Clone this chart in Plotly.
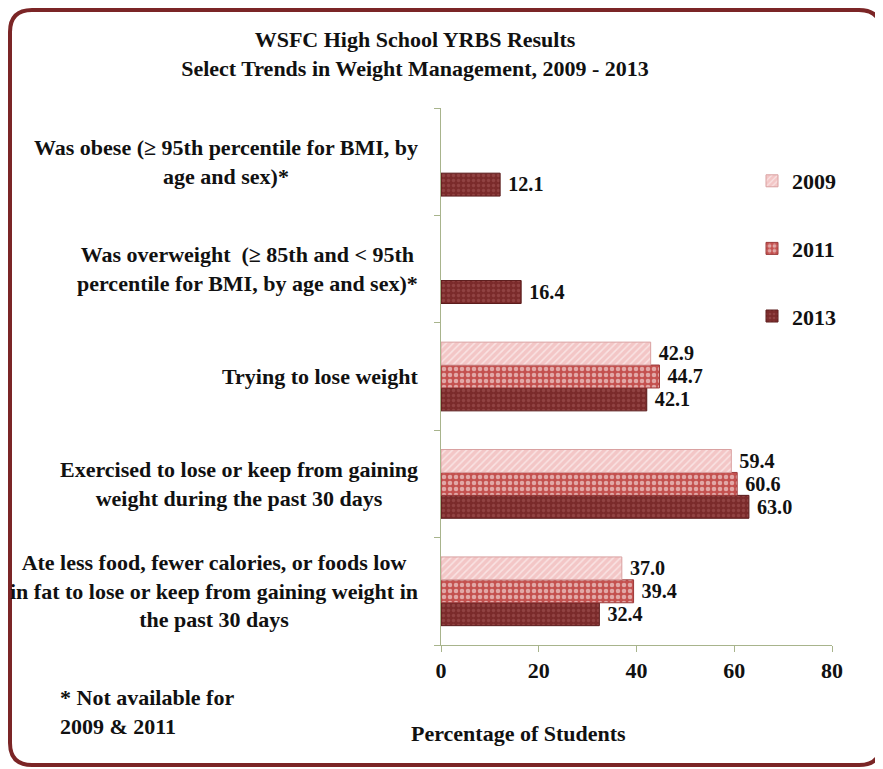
import plotly.graph_objects as go

categories = [
    "Ate less food, fewer calories, or foods low<br>in fat to lose or keep from gaining weight in<br>the past 30 days",
    "Exercised to lose or keep from gaining<br>weight during the past 30 days",
    "Trying to lose weight",
    "Was overweight  (≥ 85th and < 95th<br>percentile for BMI, by age and sex)*",
    "Was obese (≥ 95th percentile for BMI, by<br>age and sex)*",
]
years = ["2009", "2011", "2013"]
v2009 = [37.0, 59.4, 42.9, None, None]
v2011 = [39.4, 60.6, 44.7, None, None]
v2013 = [32.4, 63.0, 42.1, 16.4, 12.1]
x_ticks = [0, 20, 40, 60, 80]

FONT = "Liberation Serif"
FS = 22
OFF = 8  # page offset of the figure inside the browser window

# target pixel positions (screen) of the plot area
PL, PR, PT, PB = 441, 832, 108, 645
W, H = 883, 769
PW, PH = PR - PL, PB - PT

def px(x):
    return (x - PL) / PW

def py(y):
    return 1 - (y - PT) / PH

def bfont(size=FS):
    return dict(family=FONT, size=size, color="#111111", weight="bold")

styles = {
    "2009": dict(bg="#f3c6c6", fg="#ffffff", shape="/", size=5, sol=0.3, line="#d9a0a0", rank=1),
    "2011": dict(bg="#c4514f", fg="#ffffff", shape=".", size=6, sol=0.45, line="#9c3a3a", rank=2),
    "2013": dict(bg="#7b2b2b", fg="#a65a5a", shape=".", size=5, sol=0.35, line="#5a1a1a", rank=3),
}

fig = go.Figure()
for yr, vals in [("2013", v2013), ("2011", v2011), ("2009", v2009)]:
    s = styles[yr]
    fig.add_trace(go.Bar(
        y=categories, x=vals, orientation="h", name=yr, legendgroup=yr,
        legendrank=s["rank"],
        marker=dict(color=s["bg"], line=dict(color=s["line"], width=1),
                    pattern=dict(shape=s["shape"], fgcolor=s["fg"], bgcolor=s["bg"],
                                 size=s["size"], solidity=s["sol"])),
        text=[None if v is None else f"\u00a0{v:.1f}" for v in vals],
        textposition="outside", cliponaxis=False,
        textfont=bfont(),
    ))

annotations = []
for c in categories:
    annotations.append(dict(
        text=c, x=px(420), xref="paper", y=c, yref="y",
        xanchor="right", yanchor="middle", align="center", showarrow=False,
        font=bfont(),
    ))
annotations.append(dict(
    text="Percentage of Students", x=px(518), xref="paper", y=py(733), yref="paper",
    xanchor="center", yanchor="middle", showarrow=False, font=bfont()))
annotations.append(dict(
    text="* Not available for<br>2009 & 2011", x=px(58), xref="paper",
    y=py(712), yref="paper", xanchor="left", yanchor="middle", align="left",
    showarrow=False, font=bfont()))

fig.update_layout(
    width=W, height=H,
    margin=dict(l=PL - OFF, r=W - PR + OFF, t=PT - OFF, b=H - PB + OFF),
    paper_bgcolor="white", plot_bgcolor="white",
    barmode="group", bargap=0.36, bargroupgap=0,
    title=dict(text="WSFC High School YRBS Results<br>Select Trends in Weight Management, 2009 - 2013",
               x=(415 - OFF) / W, xanchor="center", y=1 - (47 - OFF) / H, yanchor="middle",
               font=bfont()),
    xaxis=dict(range=[0, 80], tickvals=x_ticks, showgrid=False, zeroline=False,
               showline=True, linecolor="#a8b48c", linewidth=1,
               ticks="outside", ticklen=6, tickcolor="#a8b48c",
               tickfont=bfont()),
    yaxis=dict(showticklabels=False, showgrid=False, showline=True, linecolor="#a8b48c",
               linewidth=1, ticks="outside", ticklen=6, tickcolor="#a8b48c",
               tickson="boundaries"),
    legend=dict(x=px(752), xanchor="left", y=py(160), yanchor="top",
                traceorder="grouped", tracegroupgap=36,
                font=bfont(),
                bgcolor="rgba(0,0,0,0)", itemwidth=30),
    annotations=annotations,
    showlegend=True,
)

# rounded frame around the whole chart
x0, y0, x1, y1, r = 10, 10, 881, 765, 22
path = (f"M {px(x0 + r)},{py(y0)} L {px(x1 - r)},{py(y0)} "
        f"Q {px(x1)},{py(y0)} {px(x1)},{py(y0 + r)} L {px(x1)},{py(y1 - r)} "
        f"Q {px(x1)},{py(y1)} {px(x1 - r)},{py(y1)} L {px(x0 + r)},{py(y1)} "
        f"Q {px(x0)},{py(y1)} {px(x0)},{py(y1 - r)} L {px(x0)},{py(y0 + r)} "
        f"Q {px(x0)},{py(y0)} {px(x0 + r)},{py(y0)} Z")
fig.add_shape(type="path", path=path, xref="paper", yref="paper",
              line=dict(color="#7b2526", width=4), layer="below")

fig.write_html("out.html")
